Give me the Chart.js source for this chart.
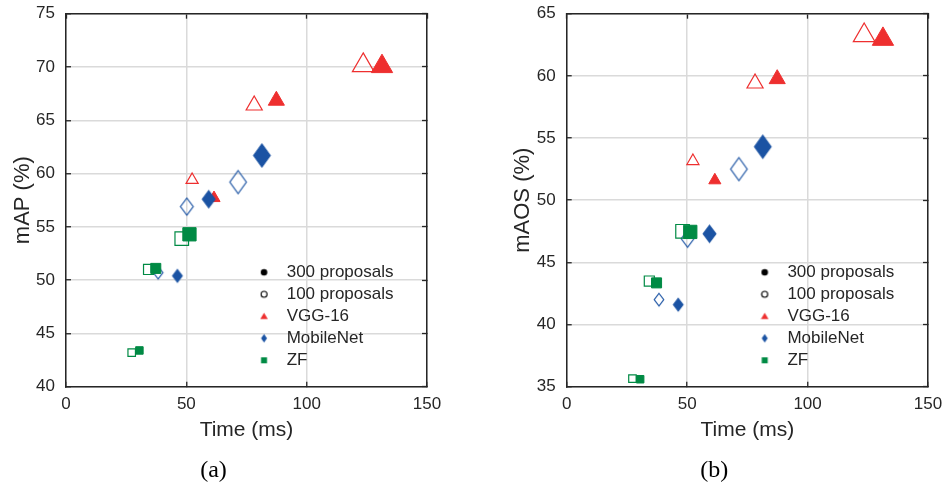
<!DOCTYPE html>
<html>
<head>
<meta charset="utf-8">
<script src="https://cdn.jsdelivr.net/npm/chart.js@4.4.1/dist/chart.umd.min.js"></script>
<style>
  body { margin: 0; background: #fff; }
  #wrap { position: relative; width: 943px; height: 485px; }
  .box { position: absolute; top: 0; height: 485px; }
</style>
</head>
<body>
<div id="wrap">
  <div class="box" style="left:0;width:471px"><canvas id="chartA"></canvas></div>
  <div class="box" style="left:471px;width:472px"><canvas id="chartB"></canvas></div>
</div>
<script>
// run time in ms, points ordered small / medium / large
const vggTime300 = [61.5, 87.4, 131.3];
const vggTime100 = [52.4, 78.2, 123.5];
const mobTime300 = [46.3, 59.3, 81.4];
const mobTime100 = [38.3, 50.2, 71.5];
const zfTime300 = [30.5, 37.3, 51.3];
const zfTime100 = [27.3, 34.3, 48.1];

// (a) mAP (%)
const vggMap300 = [57.7, 66.85, 70.05];
const vggMap100 = [59.4, 66.4, 70.15];
const mobMap300 = [50.4, 57.6, 61.7];
const mobMap100 = [50.7, 56.9, 59.2];
const zfMap300 = [43.4, 51.1, 54.3];
const zfMap100 = [43.2, 51.0, 53.9];

// (b) mAOS (%)
const vggAos300 = [51.6, 59.75, 62.95];
const vggAos100 = [53.15, 59.4, 63.25];
const mobAos300 = [41.6, 47.3, 54.3];
const mobAos100 = [42.0, 46.9, 52.5];
const zfAos300 = [35.6, 43.35, 47.45];
const zfAos100 = [35.65, 43.5, 47.5];

const legendLabels = ['300 proposals', '100 proposals', 'VGG-16', 'MobileNet', 'ZF'];
const xTicks = [0, 50, 100, 150];

const RED = '#ee2f2f';
const BLUE = '#1b53a3';
const GREEN = '#008a44';
const INK = '#262626';

Chart.defaults.font.family = "'Liberation Sans', Arial, sans-serif";
Chart.defaults.color = INK;

function diamond(w, h, color, filled) {
    const c = document.createElement('canvas');
    c.width = Math.ceil(w) + 4;
    c.height = Math.ceil(h) + 4;
    const g = c.getContext('2d');
    const cx = c.width / 2, cy = c.height / 2;
    g.beginPath();
    g.moveTo(cx, cy - h / 2);
    g.lineTo(cx + w / 2, cy);
    g.lineTo(cx, cy + h / 2);
    g.lineTo(cx - w / 2, cy);
    g.closePath();
    g.lineWidth = 1.2;
    g.strokeStyle = color;
    if (filled) { g.fillStyle = color; g.fill(); }
    g.stroke();
    return c;
}

const diamondSizes = [[9.5, 12.5], [12.7, 17], [16.5, 23]];
const mobFilled = diamondSizes.map(s => diamond(s[0], s[1], BLUE, true));
const mobHollow = diamondSizes.map(s => diamond(s[0], s[1], BLUE, false));

// legend icons: marker sits left of the icon centre so the gap to the text matches
function legendIcon(paint) {
    const c = document.createElement('canvas');
    c.width = 20;
    c.height = 14;
    const g = c.getContext('2d');
    g.translate(4.3, 7);
    paint(g);
    return c;
}
const legendIcons = [
    legendIcon(g => { g.beginPath(); g.arc(0, 0, 3.3, 0, Math.PI * 2); g.fillStyle = '#000'; g.fill(); }),
    legendIcon(g => { g.beginPath(); g.arc(0, 0, 3, 0, Math.PI * 2); g.lineWidth = 1.1; g.strokeStyle = '#000'; g.stroke(); }),
    legendIcon(g => { g.beginPath(); g.moveTo(0, -3.6); g.lineTo(3.8, 2.8); g.lineTo(-3.8, 2.8); g.closePath(); g.fillStyle = RED; g.fill(); }),
    legendIcon(g => { g.beginPath(); g.moveTo(0, -4.3); g.lineTo(3, 0); g.lineTo(0, 4.3); g.lineTo(-3, 0); g.closePath(); g.fillStyle = BLUE; g.fill(); }),
    legendIcon(g => { g.fillStyle = GREEN; g.fillRect(-3, -3, 6, 6); })
];

const legendPlace = {
    id: 'legendPlace',
    afterLayout(chart) {
        const lg = chart.legend, ca = chart.chartArea;
        lg.left = ca.left + 190.2;
        lg.right = ca.right;
        lg.top = ca.top;
        lg.bottom = ca.bottom - 12.9;
        lg.width = lg.right - lg.left;
        lg.height = lg.bottom - lg.top;
    }
};

function noEdgePad(s) {
    s.paddingLeft = 0;
    s.paddingRight = 0;
    s.paddingTop = 0;
    s.paddingBottom = 0;
}

function makeChart(id, title, yTitle, yMin, yMax, vals, padLeft, padRight) {
    const hollow = 'rgba(0,0,0,0)';
    const pts = (xs, ys) => xs.map((x, i) => ({x: x, y: ys[i]}));
    // first dataset is drawn on top
    const datasets = [
        { data: pts(zfTime300, vals.zf300), pointStyle: 'rect', pointRadius: [5.3, 7.1, 9.4],
          backgroundColor: GREEN, borderColor: GREEN, borderWidth: 1 },
        { data: pts(zfTime100, vals.zf100), pointStyle: 'rect', pointRadius: [5.3, 7.1, 9.6],
          backgroundColor: hollow, borderColor: GREEN, borderWidth: 1.2 },
        { data: pts(mobTime300, vals.mob300), pointStyle: mobFilled, pointRadius: 8,
          backgroundColor: BLUE, borderColor: BLUE },
        { data: pts(mobTime100, vals.mob100), pointStyle: mobHollow, pointRadius: 8,
          backgroundColor: hollow, borderColor: BLUE },
        { data: pts(vggTime300, vals.vgg300), pointStyle: 'triangle', pointRadius: [7, 9.3, 12.3],
          backgroundColor: RED, borderColor: RED, borderWidth: 1 },
        { data: pts(vggTime100, vals.vgg100), pointStyle: 'triangle', pointRadius: [7, 9.3, 12.5],
          backgroundColor: hollow, borderColor: RED, borderWidth: 1.2 }
    ];
    datasets.forEach(d => { d.showLine = false; d.clip = false; });

    const grid = { color: '#dadada', lineWidth: 1.5, drawTicks: true, tickLength: -5, tickColor: INK, tickWidth: 1.3 };
    const border = { display: true, color: INK, width: 1.5 };

    return new Chart(document.getElementById(id), {
        type: 'scatter',
        data: { datasets: datasets },
        options: {
            responsive: true,
            maintainAspectRatio: false,
            animation: false,
            events: [],
            layout: { padding: { left: padLeft, right: padRight, top: 13.3, bottom: 0 } },
            scales: {
                x: {
                    type: 'linear', position: 'bottom', min: 0, max: 150,
                    afterBuildTicks: s => { s.ticks = xTicks.map(v => ({value: v})); },
                    grid: grid, border: border,
                    ticks: { padding: 12, font: { size: 17 }, color: INK, maxRotation: 0 },
                    title: { display: true, text: 'Time (ms)', font: { size: 21 }, color: INK, padding: { top: 13, bottom: 13 } },
                    afterFit: s => { s.height = 69.5; noEdgePad(s); }
                },
                x2: {
                    type: 'linear', position: 'top', min: 0, max: 150,
                    afterBuildTicks: s => { s.ticks = xTicks.map(v => ({value: v})); },
                    grid: { drawOnChartArea: false, drawTicks: true, tickLength: -5, tickColor: INK, tickWidth: 1.3 },
                    border: border, ticks: { display: false },
                    afterFit: s => { s.height = 0; noEdgePad(s); }
                },
                y: {
                    type: 'linear', position: 'left', min: yMin, max: yMax,
                    ticks: { stepSize: 5, padding: 16, font: { size: 17 }, color: INK },
                    grid: grid, border: border,
                    title: { display: true, text: yTitle, font: { size: 22 }, color: INK, padding: { top: 9.3, bottom: 9.3 } },
                    afterFit: s => { s.width = 66; noEdgePad(s); }
                },
                y2: {
                    type: 'linear', position: 'right', min: yMin, max: yMax,
                    ticks: { display: false, stepSize: 5 },
                    grid: { drawOnChartArea: false, drawTicks: true, tickLength: -5, tickColor: INK, tickWidth: 1.3 },
                    border: border,
                    afterFit: s => { s.width = 0; noEdgePad(s); }
                }
            },
            plugins: {
                legend: {
                    position: 'chartArea',
                    align: 'end',
                    labels: {
                        usePointStyle: true,
                        boxWidth: 17,
                        padding: 5,
                        font: { size: 17 },
                        color: INK,
                        generateLabels: () => legendLabels.map((t, i) => ({
                            text: t, pointStyle: legendIcons[i], fillStyle: '#000',
                            strokeStyle: '#000', lineWidth: 0, hidden: false, fontColor: INK
                        }))
                    }
                },
                title: {
                    display: true, text: title, position: 'bottom', color: '#000',
                    font: { family: "'Liberation Serif', 'Times New Roman', serif", size: 24, weight: 'normal' },
                    padding: { top: 0, bottom: 0 }
                },
                tooltip: { enabled: false }
            }
        },
        plugins: [legendPlace]
    });
}

makeChart('chartA', '(a)', 'mAP (%)', 40, 75, {
    vgg300: vggMap300, vgg100: vggMap100,
    mob300: mobMap300, mob100: mobMap100,
    zf300: zfMap300, zf100: zfMap100
}, 0, 44);

makeChart('chartB', '(b)', 'mAOS (%)', 35, 65, {
    vgg300: vggAos300, vgg100: vggAos100,
    mob300: mobAos300, mob100: mobAos100,
    zf300: zfAos300, zf100: zfAos100
}, 29.7, 15);
</script>
</body>
</html>
